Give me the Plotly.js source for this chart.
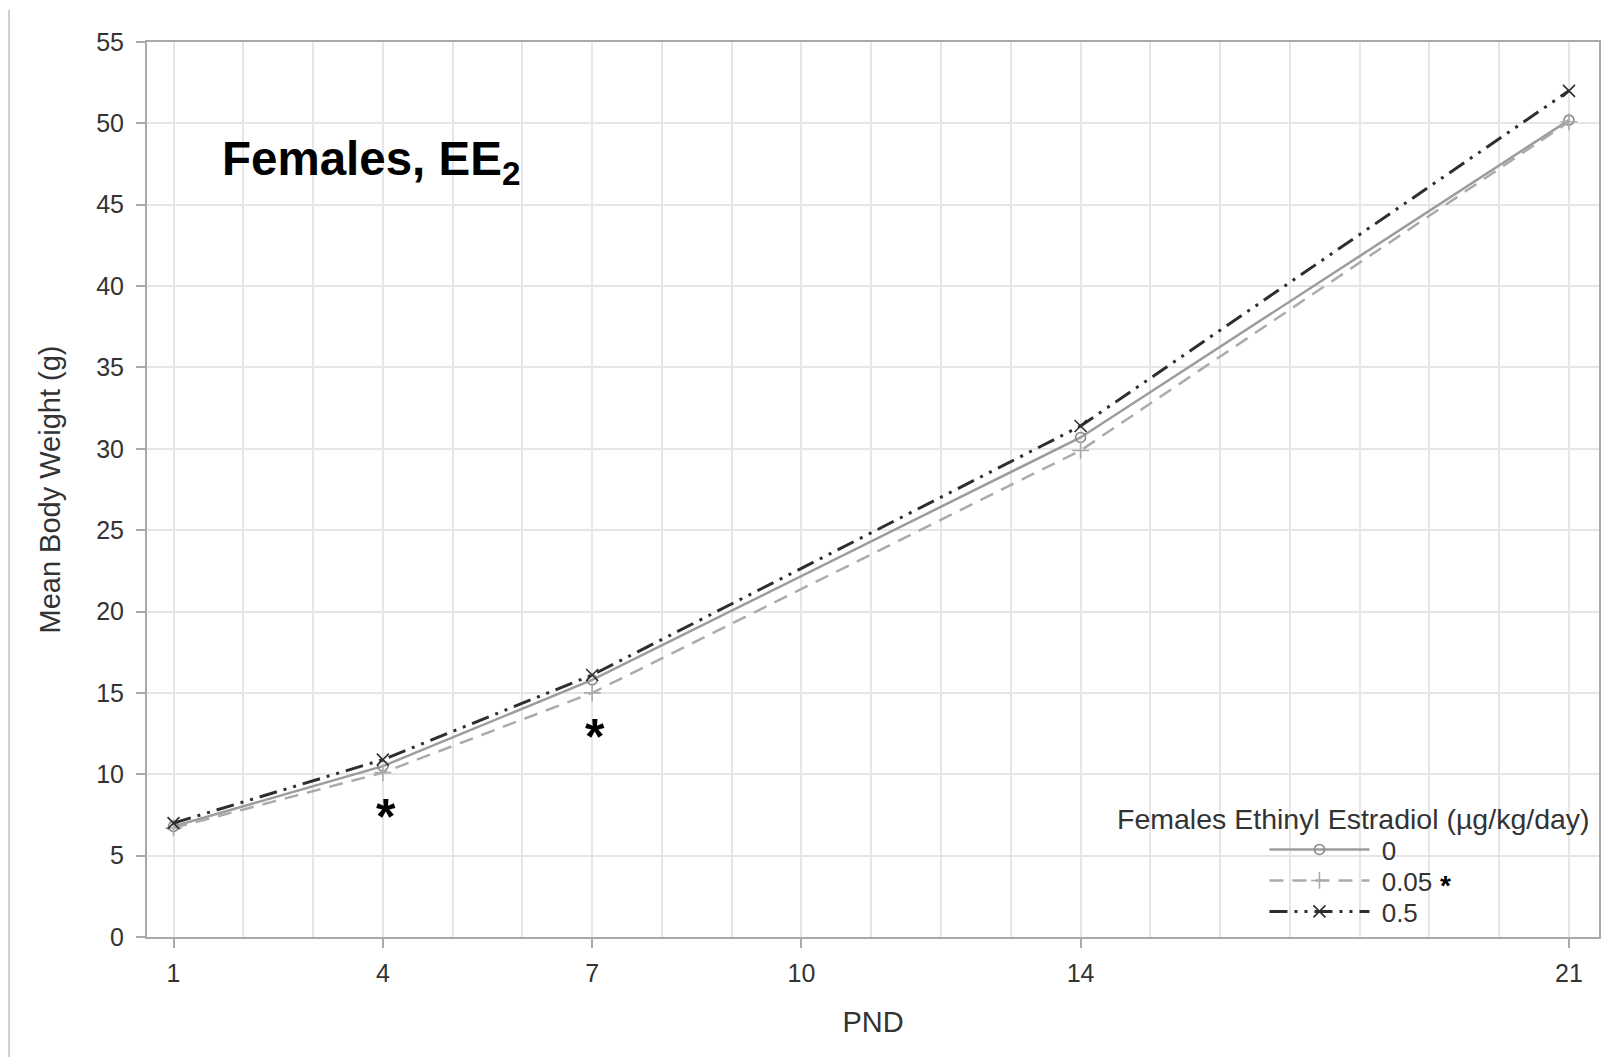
<!DOCTYPE html>
<html><head><meta charset="utf-8">
<script src="https://cdn.plot.ly/plotly-3.0.1.min.js"></script>
<style>html,body{margin:0;padding:0;background:#fff;}#chart{width:1610px;height:1057px;}</style>
</head><body><div id="chart"></div>
<script>
// ---- data ----
const pnd = [1, 4, 7, 14, 21];
const dose0 = [6.8, 10.5, 15.8, 30.7, 50.2];
const dose005 = [6.7, 10.1, 15.0, 29.9, 50.1];
const dose05 = [7.0, 10.9, 16.1, 31.4, 52.0];
const seriesNames = ['0', '0.05', '0.5'];
const xTickVals = [1, 4, 7, 10, 14, 21];
const yTickVals = [0, 5, 10, 15, 20, 25, 30, 35, 40, 45, 50, 55];
const sigPND = [4, 7];              // days with significant difference (0.05 group)
const legendTitle = 'Females Ethinyl Estradiol (µg/kg/day)';
const panelLabel = '<b>Females, EE<sub>2</sub></b>';
const xTitle = 'PND';
const yTitle = 'Mean Body Weight (g)';

const F = '"Liberation Sans", Arial, Helvetica, sans-serif';
const NB = '\u00a0';

const traces = [
  {x: pnd, y: dose0, name: NB + seriesNames[0], mode: 'lines+markers', legend: 'legend',
   line: {color: '#9c9c9c', width: 2.5},
   marker: {symbol: 'circle-open', size: 10, color: '#8a8a8a', line: {width: 1.6, color: '#8a8a8a'}}},
  {x: pnd, y: dose005, name: NB + seriesNames[1], mode: 'lines+markers', legend: 'legend2',
   line: {color: '#ababab', width: 2.5, dash: '14px,9px'},
   marker: {symbol: 'cross-thin-open', size: 12, line: {width: 1.6, color: '#999'}}},
  {x: pnd, y: dose05, name: NB + seriesNames[2], mode: 'lines+markers', legend: 'legend3',
   line: {color: '#2e2e2e', width: 3, dash: '18px,7px,3px,7px,3px,7px'},
   marker: {symbol: 'x-thin-open', size: 12, line: {width: 1.6, color: '#6a6a6a'}}}
];

const sigIdx = sigPND.map(d => pnd.indexOf(d));
const annotations = [
  {xref: 'x', yref: 'y', x: 1.67, y: 47.6, xanchor: 'left', yanchor: 'middle', showarrow: false,
   text: panelLabel, font: {family: F, size: 47.5, color: '#000'}},
  {xref: 'paper', yref: 'paper', x: 0.8306, y: 0.1323, xanchor: 'center', yanchor: 'middle', showarrow: false,
   text: legendTitle, font: {family: F, size: 28.5, color: '#333'}},
  {xref: 'paper', yref: 'paper', x: 0.8946, y: 0.0575, xanchor: 'center', yanchor: 'middle', showarrow: false,
   text: '<b>*</b>', font: {family: F, size: 28, color: '#000'}}
].concat(sigIdx.map(i => ({
  xref: 'x', yref: 'y', x: pnd[i], y: dose005[i], yshift: -44, xshift: 3, xanchor: 'center', yanchor: 'middle',
  showarrow: false, text: '<b>*</b>', font: {family: F, size: 50, color: '#000'}
})));

const legBase = {x: 0.7696, xanchor: 'left', yanchor: 'middle', bgcolor: 'rgba(0,0,0,0)',
                 font: {family: F, size: 26, color: '#333'}, itemwidth: 100, tracegroupgap: 0, borderwidth: 0};

const gridC = '#e6e6e6';
const axC = '#a9a9a9';
const layout = {
  width: 1610, height: 1057,
  margin: {l: 147, r: 11, t: 42, b: 119.5},
  paper_bgcolor: '#fff', plot_bgcolor: '#fff',
  font: {family: F, color: '#333', size: 25},
  showlegend: true,
  legend: Object.assign({}, legBase, {y: 0.0977}),
  legend2: Object.assign({}, legBase, {y: 0.0631}),
  legend3: Object.assign({}, legBase, {y: 0.0285}),
  xaxis: {range: [0.62, 21.43], tickmode: 'array', tickvals: xTickVals, ticktext: xTickVals.map(String),
          ticks: 'outside', ticklen: 9, tickcolor: axC, tickwidth: 2, ticklabelstandoff: 4,
          showline: true, linecolor: axC, linewidth: 2, mirror: true,
          showgrid: true, gridcolor: gridC, gridwidth: 2, zeroline: false,
          minor: {tickmode: 'linear', tick0: 0, dtick: 1, showgrid: true, gridcolor: gridC, gridwidth: 2, ticks: ''},
          tickfont: {family: F, size: 25, color: '#333'},
          title: {text: xTitle, font: {family: F, size: 29, color: '#333'}, standoff: 26}},
  yaxis: {range: [0, 55], tickmode: 'array', tickvals: yTickVals,
          ticks: 'outside', ticklen: 9, tickcolor: axC, tickwidth: 2, ticklabelstandoff: 7,
          showline: true, linecolor: axC, linewidth: 2, mirror: true,
          showgrid: true, gridcolor: gridC, gridwidth: 2, zeroline: false,
          tickfont: {family: F, size: 25, color: '#333'},
          title: {text: yTitle, font: {family: F, size: 29, color: '#333'}, standoff: 27}},
  annotations: annotations,
  shapes: [{type: 'line', xref: 'paper', yref: 'paper', x0: -0.095, x1: -0.095, y0: 1.036, y1: -0.14,
            line: {color: '#cfcfcf', width: 2}}]
};

Plotly.newPlot('chart', traces, layout, {displayModeBar: false, responsive: false});
</script>
</body></html>
